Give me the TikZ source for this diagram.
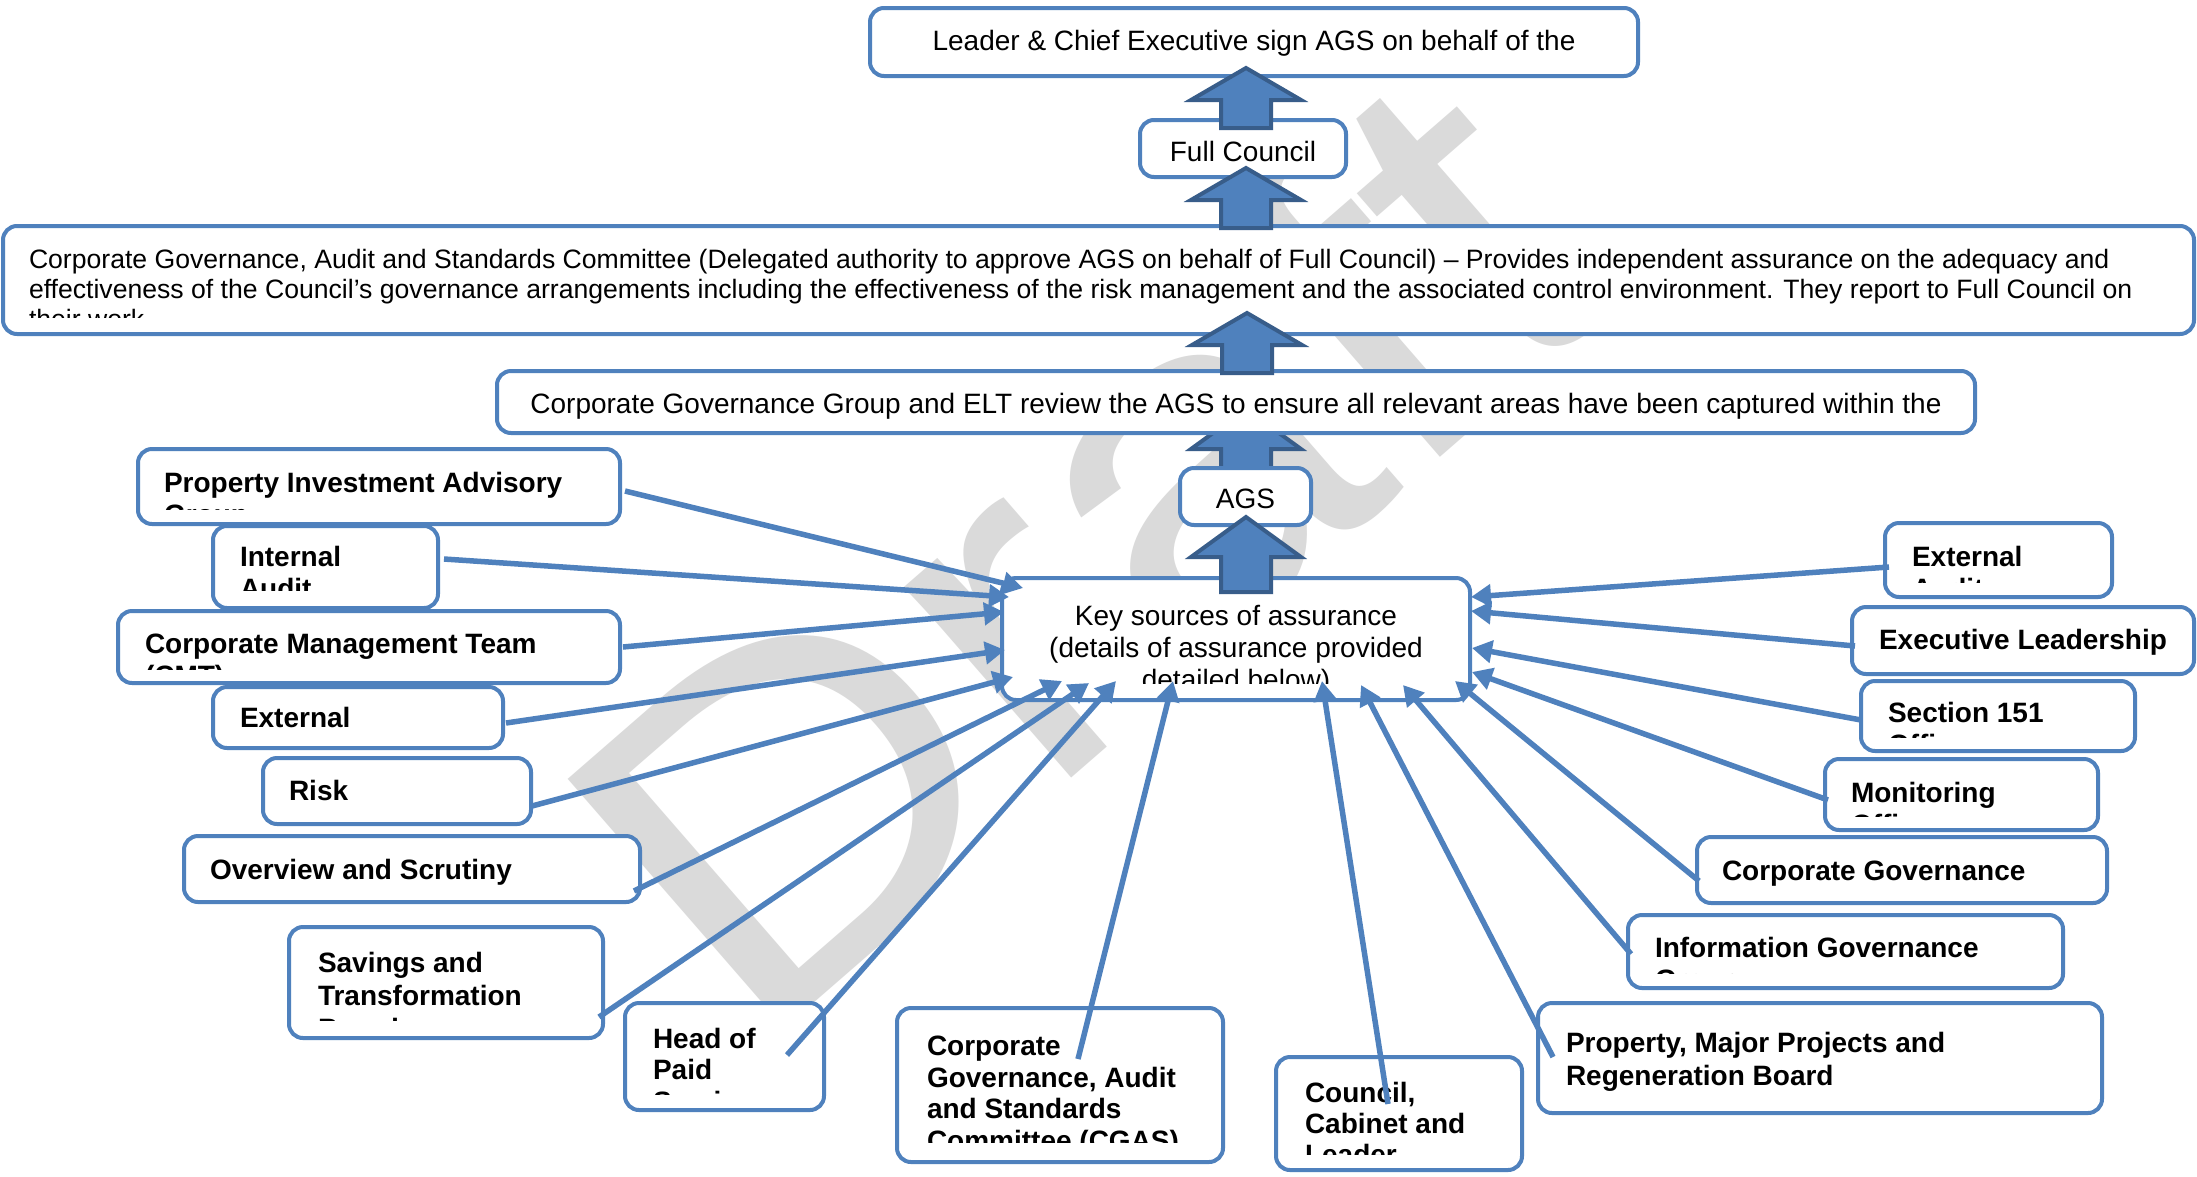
\documentclass[tikz,border=0pt]{standalone}
\usepackage{fontspec}
\setmainfont{Liberation Sans}
\usetikzlibrary{arrows.meta,fit}
\definecolor{boxblue}{RGB}{79,129,189}
\definecolor{arrborder}{RGB}{56,93,138}
\definecolor{wmgray}{RGB}{218,218,218}
\begin{document}
\begin{tikzpicture}[x=1pt,y=-1pt,
  box/.style={draw=boxblue,line width=4pt,rounded corners=14pt,fill=white,inner sep=0pt,outer sep=0pt},
  txt/.style={inner sep=0pt,outer sep=0pt,font=\fontsize{28}{32}\selectfont},
  ltxt/.style={inner sep=0pt,outer sep=0pt,font=\fontsize{26.6}{30}\selectfont},
  btxt/.style={txt,font=\fontsize{28}{32}\selectfont\bfseries},
  barrow/.style={fill=boxblue,draw=arrborder,line width=4pt,line join=miter},
  conn/.style={draw=boxblue,line width=5.5pt,-{Triangle[length=20pt,width=22pt]}},
  wm/.style={inner sep=0pt,outer sep=0pt,text=wmgray,font=\fontsize{480}{480}\selectfont}]
\useasboundingbox (0,0) rectangle (2197,1176);
\fill[white] (0,0) rectangle (2197,1176);
% watermark
\node[wm,rotate=41,xscale=1.12,anchor=base west] (wm) at (751,1057) {Draft};
% block arrow hidden under group box
\draw[barrow] (1246,409) -- (1301,449) -- (1271,449) -- (1271,470) -- (1221,470) -- (1221,449) -- (1191,449) -- cycle;
% boxes
\node[box,fit={(870,8)(1638,76)}] (top) {};
\node[txt,anchor=base] (top-t) at (1254,50) {Leader \& Chief Executive sign AGS on behalf of the};
\node[box,fit={(1140,120)(1346,177)}] (fc) {};
\node[txt,anchor=base] (fc-t) at (1243,161) {Full Council};
\node[box,fit={(3,226)(2194,334)}] (cgl) {};
\begin{scope}
\clip (3,226) rectangle (2194,317);
\node[ltxt,anchor=base west] (cgl-t1) at (29,268) {Corporate Governance, Audit and Standards Committee (Delegated authority to approve AGS on behalf of Full Council) – Provides independent assurance on the adequacy and};
\node[ltxt,anchor=base west] (cgl-t2) at (29,298) {effectiveness of the Council’s governance arrangements including the effectiveness of the risk management and the associated control environment. They report to Full Council on};
\node[ltxt,anchor=base west] (cgl-t3) at (29,328) {their work};
\end{scope}
\node[box,fit={(497,371)(1975,433)}] (grp) {};
\node[txt,anchor=base] (grp-t) at (1236,413) {Corporate Governance Group and ELT review the AGS to ensure all relevant areas have been captured within the};
\node[box,fit={(1180,468)(1311,525)}] (ags) {};
\node[txt,anchor=base] (ags-t) at (1245.5,508) {AGS};
\node[box,fit={(1002,578)(1470,700)}] (key) {};
\begin{scope}
\clip (1002,578) rectangle (1470,683);
\node[txt,anchor=base] (key-t1) at (1236,625) {Key sources of assurance};
\node[txt,anchor=base] (key-t2) at (1236,657) {(details of assurance provided};
\node[txt,anchor=base] (key-t3) at (1236,689) {detailed below)};
\end{scope}
% left boxes
\node[box,fit={(138,449)(620,524)}] (pia) {};
\begin{scope}
\clip (138,449) rectangle (620,509);
\node[btxt,anchor=base west] (pia-t1) at (164,492) {Property Investment Advisory};
\node[btxt,anchor=base west] (pia-t2) at (164,524) {Group};
\end{scope}
\node[box,fit={(213,526)(438,608)}] (ia) {};
\begin{scope}
\clip (213,526) rectangle (438,590);
\node[btxt,anchor=base west] (ia-t1) at (240,566) {Internal};
\node[btxt,anchor=base west] (ia-t2) at (240,598) {Audit};
\end{scope}
\node[box,fit={(118,611)(620,683)}] (cmt) {};
\begin{scope}
\clip (118,611) rectangle (620,669);
\node[btxt,anchor=base west] (cmt-t1) at (145,653) {Corporate Management Team};
\node[btxt,anchor=base west] (cmt-t2) at (145,685) {(CMT)};
\end{scope}
\node[box,fit={(213,687)(503,748)}] (extl) {};
\node[btxt,anchor=base west] (extl-t) at (240,727) {External};
\node[box,fit={(263,758)(531,824)}] (risk) {};
\node[btxt,anchor=base west] (risk-t) at (289,800) {Risk};
\node[box,fit={(184,836)(640,902)}] (ovs) {};
\node[btxt,anchor=base west] (ovs-t) at (210,879) {Overview and Scrutiny};
\node[box,fit={(289,927)(603,1038)}] (sav) {};
\begin{scope}
\clip (289,927) rectangle (603,1020);
\node[btxt,anchor=base west] (sav-t1) at (318,972) {Savings and};
\node[btxt,anchor=base west] (sav-t2) at (318,1005) {Transformation};
\node[btxt,anchor=base west] (sav-t3) at (318,1038) {Board};
\end{scope}
\node[box,fit={(625,1003)(824,1110)}] (hop) {};
\begin{scope}
\clip (625,1003) rectangle (824,1094);
\node[btxt,anchor=base west] (hop-t1) at (653,1048) {Head of};
\node[btxt,anchor=base west] (hop-t2) at (653,1079) {Paid};
\node[btxt,anchor=base west] (hop-t3) at (653,1111) {Service};
\end{scope}
\node[box,fit={(897,1008)(1223,1162)}] (cgs) {};
\begin{scope}
\clip (897,1008) rectangle (1223,1142);
\node[btxt,anchor=base west] (cgs-t1) at (927,1055) {Corporate};
\node[btxt,anchor=base west] (cgs-t2) at (927,1087) {Governance, Audit};
\node[btxt,anchor=base west] (cgs-t3) at (927,1118) {and Standards};
\node[btxt,anchor=base west] (cgs-t4) at (927,1150) {Committee (CGAS)};
\end{scope}
\node[box,fit={(1276,1057)(1522,1170)}] (ccl) {};
\begin{scope}
\clip (1276,1057) rectangle (1522,1154);
\node[btxt,anchor=base west] (ccl-t1) at (1305,1102) {Council,};
\node[btxt,anchor=base west] (ccl-t2) at (1305,1133) {Cabinet and};
\node[btxt,anchor=base west] (ccl-t3) at (1305,1164) {Leader};
\end{scope}
% right boxes
\node[box,fit={(1538,1003)(2102,1113)}] (pmp) {};
\node[btxt,anchor=base west] (pmp-t1) at (1566,1052) {Property, Major Projects and};
\node[btxt,anchor=base west] (pmp-t2) at (1566,1085) {Regeneration Board};
\node[box,fit={(1628,915)(2063,988)}] (igg) {};
\begin{scope}
\clip (1628,915) rectangle (2063,973);
\node[btxt,anchor=base west] (igg-t1) at (1655,957) {Information Governance};
\node[btxt,anchor=base west] (igg-t2) at (1655,989) {Group};
\end{scope}
\node[box,fit={(1697,837)(2107,903)}] (cgr) {};
\node[btxt,anchor=base west] (cgr-t) at (1722,880) {Corporate Governance};
\node[box,fit={(1825,759)(2098,830)}] (mon) {};
\begin{scope}
\clip (1825,759) rectangle (2098,816);
\node[btxt,anchor=base west] (mon-t1) at (1851,802) {Monitoring};
\node[btxt,anchor=base west] (mon-t2) at (1851,834) {Officer};
\end{scope}
\node[box,fit={(1861,681)(2135,751)}] (sec) {};
\begin{scope}
\clip (1861,681) rectangle (2135,737);
\node[btxt,anchor=base west] (sec-t1) at (1888,722) {Section 151};
\node[btxt,anchor=base west] (sec-t2) at (1888,754) {Officer};
\end{scope}
\node[box,fit={(1852,607)(2194,674)}] (elt) {};
\node[btxt,anchor=base west] (elt-t) at (1879,649) {Executive Leadership};
\node[box,fit={(1885,523)(2112,597)}] (exr) {};
\begin{scope}
\clip (1885,523) rectangle (2112,582);
\node[btxt,anchor=base west] (exr-t1) at (1912,566) {External};
\node[btxt,anchor=base west] (exr-t2) at (1912,598) {Audit};
\end{scope}
% block arrows on top
\draw[barrow] (1246,68) -- (1301,100) -- (1271,100) -- (1271,128) -- (1221,128) -- (1221,100) -- (1191,100) -- cycle;
\draw[barrow] (1246,168) -- (1301,200) -- (1271,200) -- (1271,228) -- (1221,228) -- (1221,200) -- (1191,200) -- cycle;
\draw[barrow] (1247,313) -- (1302,345) -- (1272,345) -- (1272,373) -- (1222,373) -- (1222,345) -- (1192,345) -- cycle;
\draw[barrow] (1246,517) -- (1301,557) -- (1271,557) -- (1271,592) -- (1221,592) -- (1221,557) -- (1191,557) -- cycle;
% connectors
\draw[conn] ([shift={(487,42)}]pia.north west) -- ([shift={(21,10)}]key.north west);
\draw[conn] ([shift={(231,33)}]ia.north west) -- ([shift={(7,19)}]key.north west);
\draw[conn] ([shift={(505,36)}]cmt.north west) -- ([shift={(2,34)}]key.north west);
\draw[conn] ([shift={(293,36)}]extl.north west) -- ([shift={(3,72)}]key.north west);
\draw[conn] ([shift={(269,48)}]risk.north west) -- ([shift={(11,99)}]key.north west);
\draw[conn] ([shift={(450,55)}]ovs.north west) -- ([shift={(60,103)}]key.north west);
\draw[conn] ([shift={(310,90)}]sav.north west) -- ([shift={(87,105)}]key.north west);
\draw[conn] ([shift={(162,52)}]hop.north west) -- ([shift={(114,103)}]key.north west);
\draw[conn] ([shift={(181,51)}]cgs.north west) -- ([shift={(171,103)}]key.north west);
\draw[conn] ([shift={(112,47)}]ccl.north west) -- ([shift={(320,103)}]key.north west);
\draw[conn] ([shift={(15,54)}]pmp.north west) -- ([shift={(359,107)}]key.north west);
\draw[conn] ([shift={(3,39)}]igg.north west) -- ([shift={(401,107)}]key.north west);
\draw[conn] ([shift={(2,44)}]cgr.north west) -- ([shift={(453,103)}]key.north west);
\draw[conn] ([shift={(3,41)}]mon.north west) -- ([shift={(470,94)}]key.north west);
\draw[conn] ([shift={(0,39)}]sec.north west) -- ([shift={(470,70)}]key.north west);
\draw[conn] ([shift={(3,39)}]elt.north west) -- ([shift={(469,33)}]key.north west);
\draw[conn] ([shift={(4,44)}]exr.north west) -- ([shift={(469,19)}]key.north west);
\end{tikzpicture}
\end{document}
